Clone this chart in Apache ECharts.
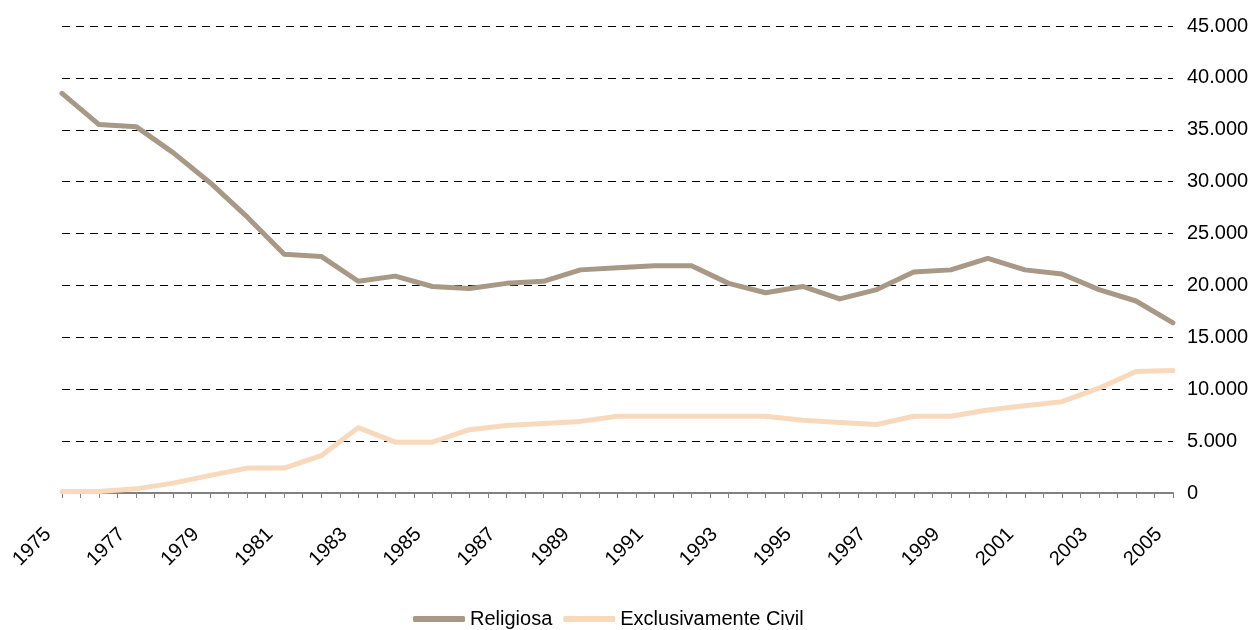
<!DOCTYPE html>
<html lang="pt">
<head>
    <meta charset="UTF-8">
    <title>Casamentos</title>
    <style>
        html, body { margin: 0; padding: 0; background: #fff; }
        #main { width: 1256px; height: 630px; }
    </style>
    <script src="https://cdn.jsdelivr.net/npm/echarts@6/dist/echarts.min.js"></script>
</head>
<body>
    <div id="main"></div>
    <script>
        // dados
        let years = [1975, 1976, 1977, 1978, 1979, 1980, 1981, 1982, 1983, 1984,
                     1985, 1986, 1987, 1988, 1989, 1990, 1991, 1992, 1993, 1994,
                     1995, 1996, 1997, 1998, 1999, 2000, 2001, 2002, 2003, 2004, 2005];
        let religiosa = [38500, 35500, 35300, 32800, 29900, 26600, 23000, 22800, 20400, 20900,
                         19900, 19700, 20200, 20400, 21500, 21700, 21900, 21900, 20200, 19300,
                         19900, 18700, 19600, 21300, 21500, 22600, 21500, 21100, 19600, 18500, 16400];
        let civil = [150, 150, 400, 950, 1700, 2400, 2400, 3600, 6300, 4900,
                     4900, 6100, 6500, 6700, 6900, 7400, 7400, 7400, 7400, 7400,
                     7000, 6800, 6600, 7400, 7400, 8000, 8400, 8800, 10100, 11700, 11800];
        let yTicks = [0, 5000, 10000, 15000, 20000, 25000, 30000, 35000, 40000, 45000];

        let chartDom = document.getElementById('main');
        let myChart = echarts.init(chartDom);

        function pairs(vals) {
            return years.map(function (y, i) { return [y, vals[i]]; });
        }
        function fmtThousands(v) {
            return String(v).replace(/\B(?=(\d{3})+(?!\d))/g, '.');
        }

        let font = 'Liberation Sans, Arial, sans-serif';

        let option = {
            animation: false,
            backgroundColor: '#fff',
            textStyle: { fontFamily: font },
            grid: { left: 62, right: 83, top: 26, bottom: 137 },
            legend: {
                top: 604,
                left: 408,
                icon: 'roundRect',
                itemWidth: 52,
                itemHeight: 6,
                itemGap: 11,
                textStyle: { fontSize: 20, color: '#000', fontFamily: font },
                data: ['Religiosa', 'Exclusivamente Civil']
            },
            xAxis: {
                type: 'value',
                min: years[0],
                max: years[years.length - 1],
                interval: 1,
                splitLine: { show: false },
                axisLine: { show: true, lineStyle: { color: '#808080', width: 2 } },
                axisTick: { show: true, length: 5, lineStyle: { color: '#808080' } },
                minorTick: { show: true, splitNumber: 2, length: 5, lineStyle: { color: '#808080' } },
                axisLabel: {
                    rotate: 45,
                    margin: 24,
                    padding: [0, 20, 0, 0],
                    fontSize: 20,
                    color: '#000',
                    fontFamily: font,
                    formatter: function (v) { return (v - years[0]) % 2 === 0 ? String(v) : ''; }
                }
            },
            yAxis: {
                type: 'value',
                position: 'right',
                min: yTicks[0],
                max: yTicks[yTicks.length - 1],
                interval: 5000,
                axisLine: { show: false },
                axisTick: { show: false },
                splitLine: { show: true, lineStyle: { color: '#000', type: [8, 6], width: 1 } },
                axisLabel: {
                    margin: 14,
                    fontSize: 20,
                    color: '#000',
                    fontFamily: font,
                    formatter: fmtThousands
                }
            },
            series: [
                {
                    name: 'Religiosa',
                    type: 'line',
                    data: pairs(religiosa),
                    symbol: 'none',
                    color: '#a89886',
                    lineStyle: { width: 5, color: '#a89886', cap: 'round', join: 'round' }
                },
                {
                    name: 'Exclusivamente Civil',
                    type: 'line',
                    data: pairs(civil),
                    symbol: 'none',
                    color: '#f9d9bc',
                    lineStyle: { width: 5, color: '#f9d9bc', cap: 'round', join: 'round' }
                }
            ]
        };

        option && myChart.setOption(option);
    </script>
</body>
</html>
